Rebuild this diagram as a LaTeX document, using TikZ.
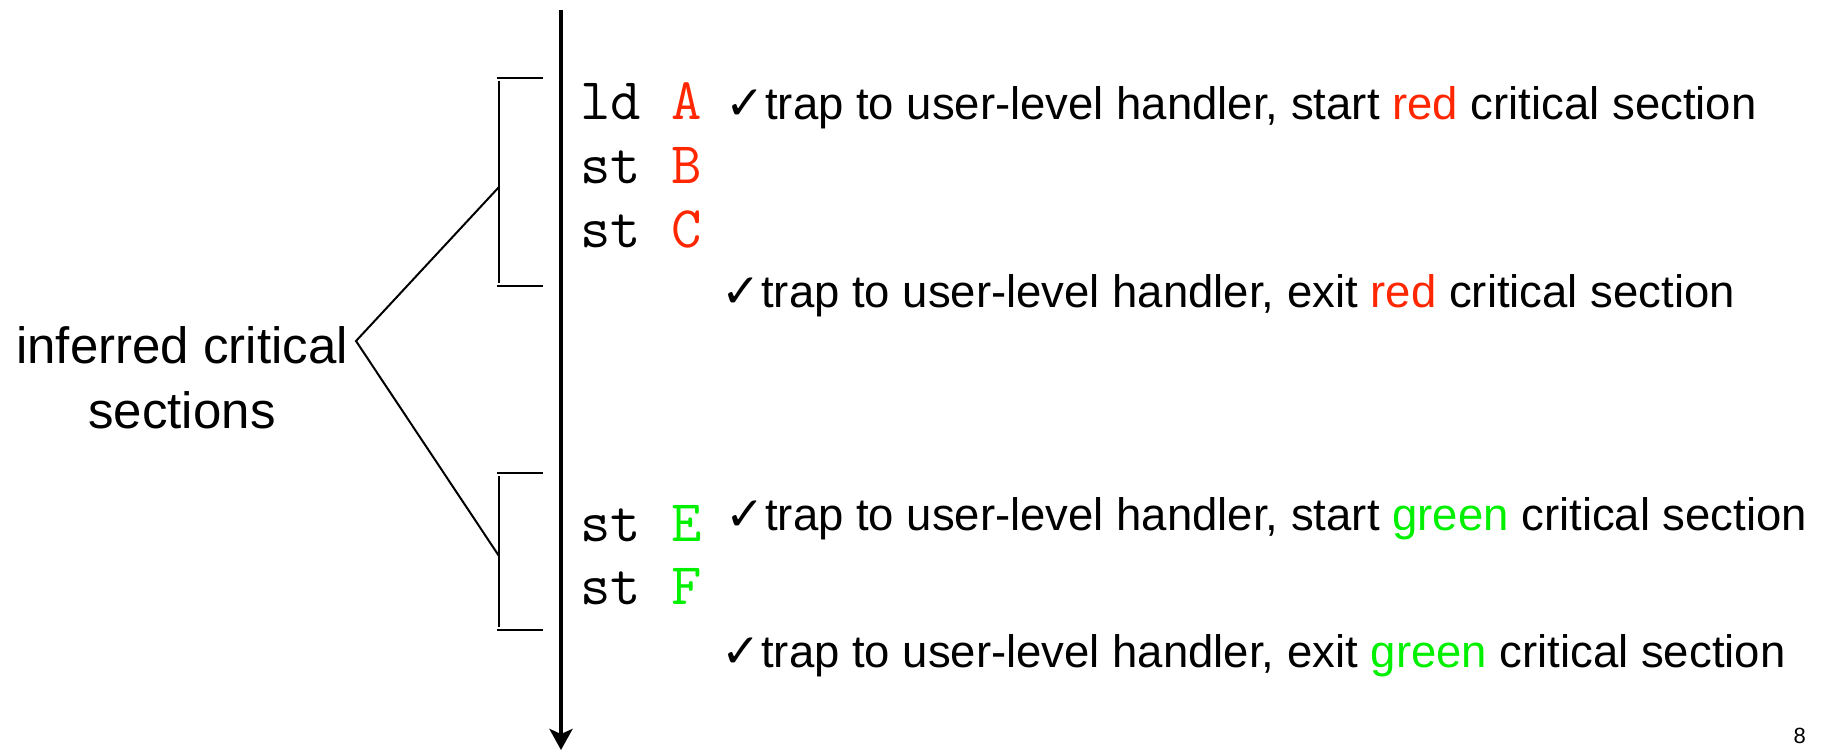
\documentclass[tikz,border=0pt]{standalone}
\usepackage{fontspec}
\setmainfont{Liberation Sans}
\newfontfamily\checkfont{DejaVu Sans}
\usetikzlibrary{arrows.meta}
\definecolor{secred}{RGB}{255,38,0}
\definecolor{secgreen}{RGB}{0,240,0}
\newcommand{\tick}{\makebox[37pt][l]{\hspace{-3pt}\checkfont\fontsize{47}{52}\selectfont ✓}}
\tikzset{
  instr/.style={anchor=base west, inner sep=0pt, font=\ttfamily\fontsize{59}{64}\selectfont},
  note/.style={anchor=base west, inner sep=0pt, font=\fontsize{45.5}{52}\selectfont},
  lbl/.style={anchor=base, inner sep=0pt, font=\fontsize{51}{60}\selectfont},
  brk/.style={line width=2pt},
  timeline/.style={line width=4pt, -{Stealth[length=21pt,width=23pt,inset=5pt]}},
}
\begin{document}
\begin{tikzpicture}[x=1pt,y=-1pt]
\useasboundingbox (0,0) rectangle (1829,750);

% time axis
\coordinate (top) at (561,10);
\coordinate (bottom) at (561,750);
\draw[timeline] (top) -- (bottom);

% instruction stream
\node[instr] (ldA) at (580,119) {ld \textcolor{secred}{A}};
\node[instr] (stB) at (580,183) {st \textcolor{secred}{B}};
\node[instr] (stC) at (580,247) {st \textcolor{secred}{C}};
\node[instr] (stE) at (580,541) {st \textcolor{secgreen}{E}};
\node[instr] (stF) at (580,604) {st \textcolor{secgreen}{F}};

% trap annotations
\node[note] (t1) at (728,119) {\tick trap to user-level handler, start \textcolor{secred}{red} critical section};
\node[note] (t2) at (724,307) {\tick trap to user-level handler, exit \textcolor{secred}{red} critical section};
\node[note] (t3) at (728,530) {\tick trap to user-level handler, start \textcolor{secgreen}{green} critical section};
\node[note] (t4) at (724,667) {\tick trap to user-level handler, exit \textcolor{secgreen}{green} critical section};

% brackets around the inferred sections
\coordinate (b1t) at (499,78);
\coordinate (b1b) at (499,286);
\coordinate (b2t) at (499,473);
\coordinate (b2b) at (499,630);
\coordinate (b1te) at (543,78);
\coordinate (b1be) at (543,286);
\coordinate (b2te) at (543,473);
\coordinate (b2be) at (543,630);
\draw[brk] (b1te) -- ([xshift=-2pt]b1t);
\draw[brk] (b1be) -- ([xshift=-2pt]b1b);
\draw[brk] ([yshift=-3pt]b1t) -- ([yshift=3pt]b1b);
\draw[brk] (b2te) -- ([xshift=-2pt]b2t);
\draw[brk] (b2be) -- ([xshift=-2pt]b2b);
\draw[brk] ([yshift=-3pt]b2t) -- ([yshift=3pt]b2b);

% label and its pointer lines
\node[lbl] (lab1) at (182,363) {inferred critical};
\node[lbl] (lab2) at (182,428) {sections};
\coordinate (apex) at (356,341);
\coordinate (m1) at (499,187);
\coordinate (m2) at (499,556);
\draw[brk] (m1) -- (apex) -- (m2);

% page number
\node[anchor=base east, inner sep=0pt, font=\fontsize{22}{26}\selectfont] (pg) at (1806,743) {8};
\end{tikzpicture}
\end{document}
